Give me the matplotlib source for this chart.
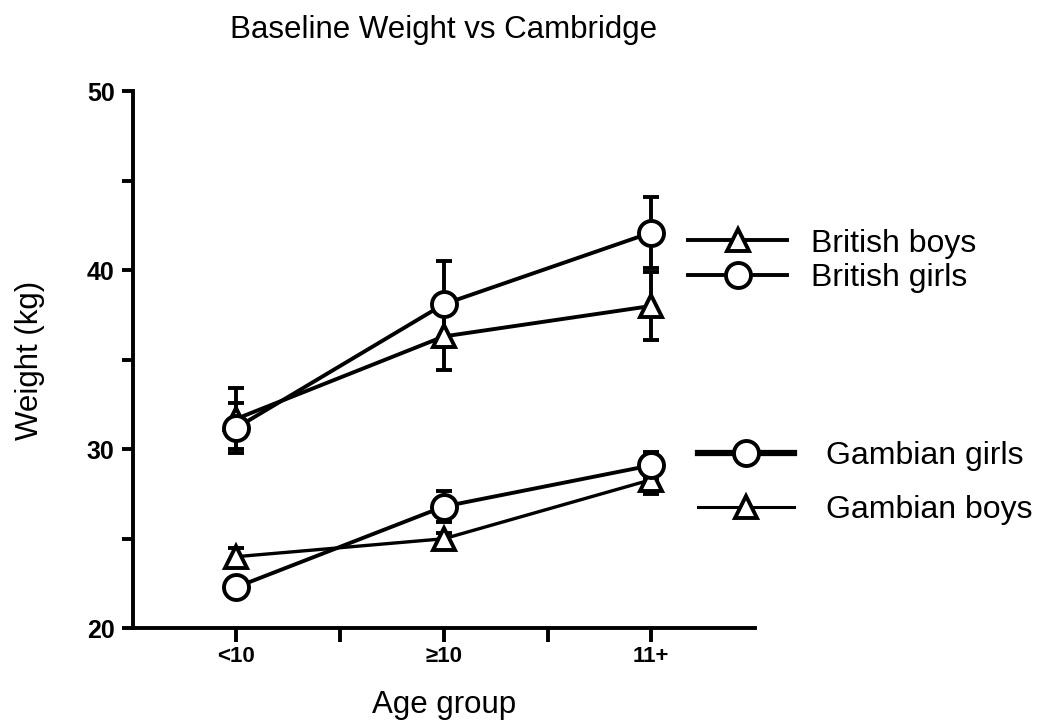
"""
Baseline weight by age group: British vs Gambian children.
"""
import matplotlib
matplotlib.use("Agg")
import matplotlib.pyplot as plt
from matplotlib.lines import Line2D

age_groups = ["<10", "\u226510", "11+"]
x_pos = [0, 1, 2]

british_boys = [31.7, 36.3, 38.0]
british_boys_err = [1.7, 1.9, 1.9]
british_girls = [31.2, 38.1, 42.1]
british_girls_err = [1.4, 2.4, 2.0]
gambian_girls = [22.3, 26.8, 29.1]
gambian_girls_err = [0.0, 0.85, 0.75]
gambian_boys = [24.0, 25.0, 28.3]
gambian_boys_err = [0.5, 0.3, 0.8]

plt.rcParams["font.family"] = ["Liberation Sans", "DejaVu Sans"]

fig = plt.figure(figsize=(10.37, 7.23), dpi=100)
ax = fig.add_axes([0.128, 0.131, 0.6, 0.743])

common = dict(color="black", mfc="white", mec="black", mew=2.8,
              capsize=6, capthick=2.8, elinewidth=2.8)
ax.errorbar(x_pos, gambian_boys, yerr=gambian_boys_err, marker="^", ms=16, lw=2.4, **common)
ax.errorbar(x_pos, gambian_girls, yerr=gambian_girls_err, marker="o", ms=18, lw=2.8, **common)
ax.errorbar(x_pos, british_boys, yerr=british_boys_err, marker="^", ms=16, lw=2.8, **common)
ax.errorbar(x_pos, british_girls, yerr=british_girls_err, marker="o", ms=18, lw=2.8, **common)

ax.set_xlim(-0.5, 2.5)
ax.set_ylim(20, 50)
ax.set_xticks(x_pos)
ax.set_xticklabels(age_groups)
ax.set_xticks([0.5, 1.5], minor=True)
ax.set_yticks([20, 30, 40, 50])
ax.set_yticks([25, 35, 45], minor=True)
for s in ["top", "right"]:
    ax.spines[s].set_visible(False)
for s in ["left", "bottom"]:
    ax.spines[s].set_linewidth(2.8)
ax.tick_params(axis="both", which="both", width=2.8, direction="out")
ax.tick_params(axis="y", which="both", length=8, labelsize=18, pad=5)
ax.tick_params(axis="x", which="both", length=10, labelsize=16, pad=3)
for lab in ax.get_yticklabels() + ax.get_xticklabels():
    lab.set_fontweight("bold")

fig.text(444 / 1037, 1 - 30 / 723, "Baseline Weight vs Cambridge",
         ha="center", va="center", fontsize=22.5)
fig.text(30 / 1037, 1 - 360 / 723, "Weight (kg)", rotation=90,
         ha="center", va="center", fontsize=22.5)
fig.text(444 / 1037, 1 - 705 / 723, "Age group", ha="center", va="center", fontsize=22.5)


def proxy(marker, lw):
    return Line2D([], [], color="black", lw=lw, marker=marker, ms=18 if marker == "o" else 16,
                  mfc="white", mec="black", mew=2.8)


leg1 = ax.legend([proxy("^", 2.8), proxy("o", 2.8)], ["British boys", "British girls"],
                 loc="center left", bbox_to_anchor=(688 / 1037, 1 - 261 / 723),
                 bbox_transform=fig.transFigure, frameon=False, fontsize=23,
                 handlelength=3.1, handletextpad=0.75, labelspacing=0.15,
                 borderpad=0, borderaxespad=0)
ax.add_artist(leg1)
ax.legend([proxy("o", 4.5), proxy("^", 2.2)], ["Gambian girls", "Gambian boys"],
          loc="center left", bbox_to_anchor=(698 / 1037, 1 - 483 / 723),
          bbox_transform=fig.transFigure, frameon=False, fontsize=23,
          handlelength=3.0, handletextpad=1.0, labelspacing=0.75,
          borderpad=0, borderaxespad=0)

fig.savefig("out.png", dpi=100)
